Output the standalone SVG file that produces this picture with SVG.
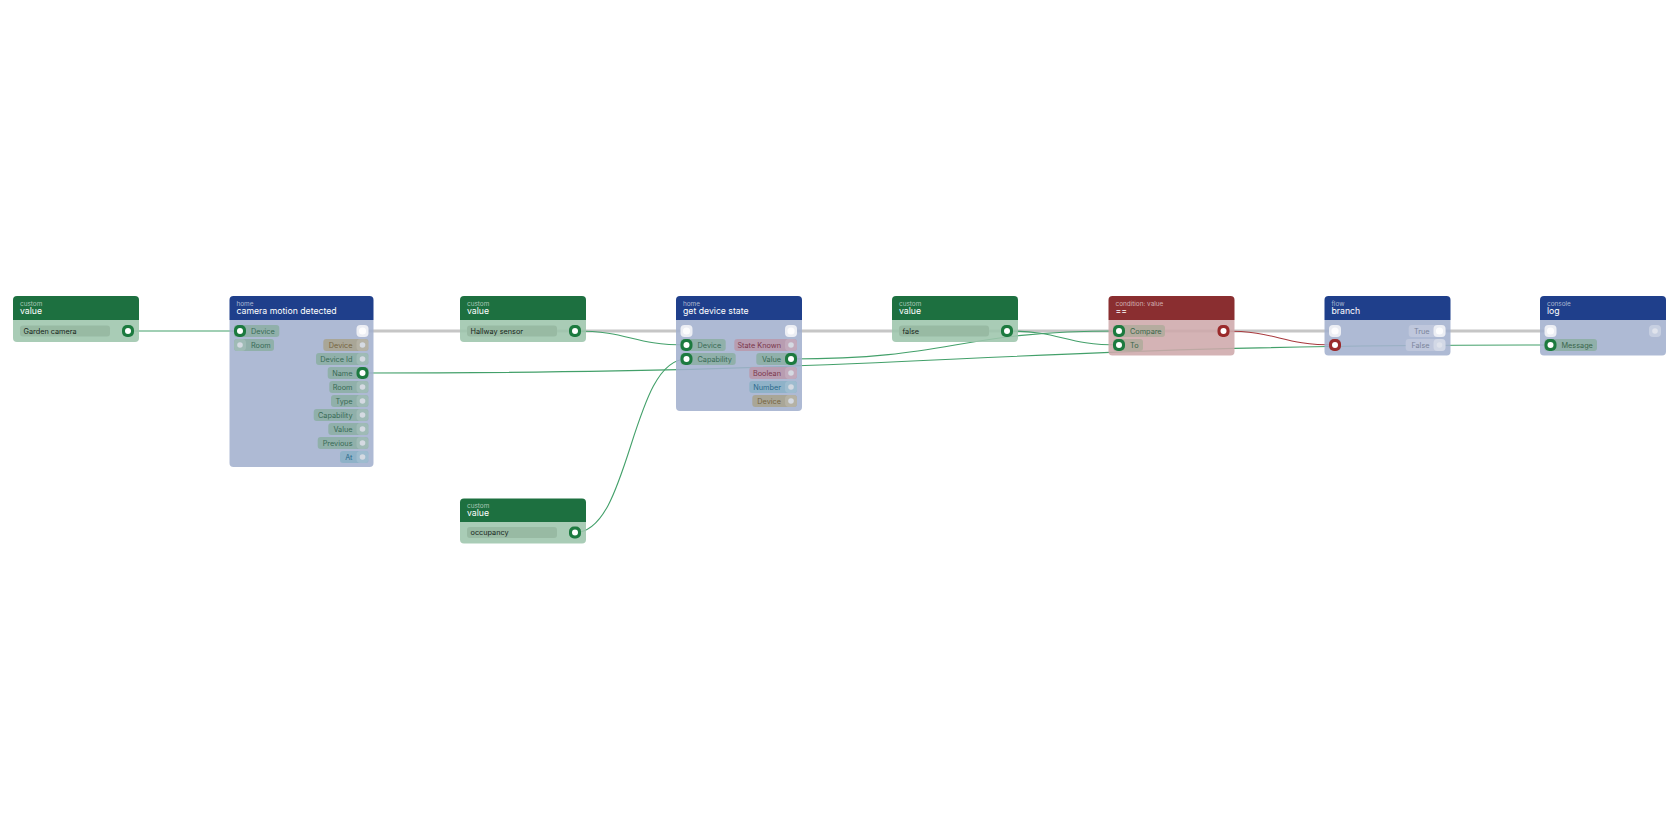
<svg xmlns="http://www.w3.org/2000/svg" width="1680" height="840" viewBox="0 0 1680 840">
<style>
text{font-family:Inter,"Noto Sans","Liberation Sans",sans-serif}
.sub{font-size:6.4px;fill:rgba(255,255,255,0.62)}
.ttl{font-size:8.7px;fill:#ffffff}
.lbl{font-size:7.3px}
.fld{font-size:7.3px;fill:#17251b}
.hg{fill:#1d7040}.hb{fill:#1f3f8b}.hr{fill:#8a2e30}
.bg{fill:#9dc5ac;fill-opacity:0.88}.bb{fill:#a3b0ce;fill-opacity:0.88}.br{fill:#cea9ab;fill-opacity:0.88}
.field{fill:#98baa3}
.pt{fill:#90b0aa}.tt{fill:#386a55}
.pd{fill:#a9a697}.td{fill:#76653f}
.pa{fill:#8fb2c8}.ta{fill:#2b6a8c}
.pm{fill:#b89db1}.tm{fill:#7a364b}
.pf{fill:#bfc7dc}.tf{fill:#7a849a}
.pc{fill:#b5ac9f}.tc{fill:#3a664a}
.exec{fill:none;stroke:#c6c6c6;stroke-width:3}
.data{fill:none;stroke:#43a06a;stroke-width:1.1}
.bool{fill:none;stroke:#a8393d;stroke-width:1.1}
.pg{fill:#1c7a3f}.pr{fill:#9a2a2b}.dot{fill:#ffffff}
.pu{fill:rgba(255,255,255,0.14)}.du{fill:#d5dae2}
.pe{fill:#eceef4}.de{fill:#fdfdfe}
.peu{fill:rgba(255,255,255,0.3)}.deu{fill:#dfe3ec}
</style>
<defs>
<g id="pgreen"><rect x="-6" y="-6" width="12" height="12" rx="5" class="pg"/><circle r="3" class="dot"/></g>
<g id="pred"><rect x="-6" y="-6" width="12" height="12" rx="5" class="pr"/><circle r="3" class="dot"/></g>
<g id="pun"><rect x="-6" y="-6" width="12" height="12" rx="4" class="pu"/><circle r="2.8" class="du"/></g>
<g id="pexec"><rect x="-6" y="-6" width="12" height="12" rx="4" class="pe"/><circle r="3.6" class="de"/></g>
<g id="pexecu"><rect x="-6" y="-6" width="12" height="12" rx="4" class="peu"/><circle r="2.8" class="deu"/></g>
</defs>
<rect width="1680" height="840" fill="#ffffff"/>

<g id="connectors">
<path class="exec" d="M362.5 331 L686.5 331"/>
<path class="exec" d="M791 331 L1335 331"/>
<path class="exec" d="M1439.5 331 L1550.5 331"/>
<path class="data" d="M128 331 L240 331"/>
<path class="data" d="M575 331 C630.75 331 630.75 345 686.5 345"/>
<path class="data" d="M575 532.5 C630.75 532.5 630.75 359 686.5 359"/>
<path class="data" d="M362.5 373 C956.5 373 956.5 345 1550.5 345"/>
<path class="data" d="M791 359 C955 359 955 331 1119 331"/>
<path class="data" d="M1007 331 C1063 331 1063 345 1119 345"/>
<path class="bool" d="M1223.5 331 C1279.25 331 1279.25 345 1335 345"/>
</g>

<g id="node-garden-camera">
<path class="hg" d="M13 300 a4 4 0 0 1 4 -4 h118 a4 4 0 0 1 4 4 v20 h-126 z"/>
<path class="bg" d="M13 320 h126 v18 a4 4 0 0 1 -4 4 h-118 a4 4 0 0 1 -4 -4 z"/>
<text class="sub" x="20" y="305.6">custom</text>
<text class="ttl" x="20" y="313.8">value</text>
<rect class="field" x="20" y="325.5" width="90" height="11" rx="3"/>
<text class="fld" x="23.5" y="333.6">Garden camera</text>
<use href="#pgreen" x="128" y="331"/>
</g>

<g id="node-camera-motion">
<path class="hb" d="M229.5 300 a4 4 0 0 1 4 -4 h136 a4 4 0 0 1 4 4 v20 h-144 z"/>
<path class="bb" d="M229.5 320 h144 v143 a4 4 0 0 1 -4 4 h-136 a4 4 0 0 1 -4 -4 z"/>
<text class="sub" x="236.5" y="305.6">home</text>
<text class="ttl" x="236.5" y="313.8">camera motion detected</text>
<rect class="pt" x="234" y="325" width="45.3" height="12" rx="3"/>
<text class="lbl tt" x="251" y="333.6">Device</text>
<use href="#pgreen" x="240" y="331"/>
<rect class="pt" x="234" y="339" width="40" height="12" rx="3"/>
<text class="lbl tt" x="251" y="347.6">Room</text>
<use href="#pun" x="240" y="345"/>
<use href="#pexec" x="362.5" y="331"/>
<rect class="pd" x="323.3" y="339" width="45.2" height="12" rx="3"/>
<text class="lbl td" x="352.5" y="347.6" text-anchor="end">Device</text>
<use href="#pun" x="362.5" y="345"/>
<rect class="pt" x="316" y="353" width="52.5" height="12" rx="3"/>
<text class="lbl tt" x="352.5" y="361.6" text-anchor="end">Device Id</text>
<use href="#pun" x="362.5" y="359"/>
<rect class="pt" x="327.7" y="367" width="40.8" height="12" rx="3"/>
<text class="lbl tt" x="352.5" y="375.6" text-anchor="end">Name</text>
<use href="#pgreen" x="362.5" y="373"/>
<rect class="pt" x="329.3" y="381" width="39.2" height="12" rx="3"/>
<text class="lbl tt" x="352.5" y="389.6" text-anchor="end">Room</text>
<use href="#pun" x="362.5" y="387"/>
<rect class="pt" x="331" y="395" width="37.5" height="12" rx="3"/>
<text class="lbl tt" x="352.5" y="403.6" text-anchor="end">Type</text>
<use href="#pun" x="362.5" y="401"/>
<rect class="pt" x="313.7" y="409" width="54.8" height="12" rx="3"/>
<text class="lbl tt" x="352.5" y="417.6" text-anchor="end">Capability</text>
<use href="#pun" x="362.5" y="415"/>
<rect class="pt" x="328.3" y="423" width="40.2" height="12" rx="3"/>
<text class="lbl tt" x="352.5" y="431.6" text-anchor="end">Value</text>
<use href="#pun" x="362.5" y="429"/>
<rect class="pt" x="317.7" y="437" width="50.8" height="12" rx="3"/>
<text class="lbl tt" x="352.5" y="445.6" text-anchor="end">Previous</text>
<use href="#pun" x="362.5" y="443"/>
<rect class="pa" x="340" y="451" width="28.5" height="12" rx="3"/>
<text class="lbl ta" x="352.5" y="459.6" text-anchor="end">At</text>
<use href="#pun" x="362.5" y="457"/>
</g>

<g id="node-hallway-sensor">
<path class="hg" d="M460 300 a4 4 0 0 1 4 -4 h118 a4 4 0 0 1 4 4 v20 h-126 z"/>
<path class="bg" d="M460 320 h126 v18 a4 4 0 0 1 -4 4 h-118 a4 4 0 0 1 -4 -4 z"/>
<text class="sub" x="467" y="305.6">custom</text>
<text class="ttl" x="467" y="313.8">value</text>
<rect class="field" x="467" y="325.5" width="90" height="11" rx="3"/>
<text class="fld" x="470.5" y="333.6">Hallway sensor</text>
<use href="#pgreen" x="575" y="331"/>
</g>

<g id="node-get-device-state">
<path class="hb" d="M676 300 a4 4 0 0 1 4 -4 h118 a4 4 0 0 1 4 4 v20 h-126 z"/>
<path class="bb" d="M676 320 h126 v87 a4 4 0 0 1 -4 4 h-118 a4 4 0 0 1 -4 -4 z"/>
<text class="sub" x="683" y="305.6">home</text>
<text class="ttl" x="683" y="313.8">get device state</text>
<use href="#pexec" x="686.5" y="331"/>
<rect class="pt" x="680.5" y="339" width="45.2" height="12" rx="3"/>
<text class="lbl tt" x="697.5" y="347.6">Device</text>
<use href="#pgreen" x="686.5" y="345"/>
<rect class="pt" x="680.5" y="353" width="55.2" height="12" rx="3"/>
<text class="lbl tt" x="697.5" y="361.6">Capability</text>
<use href="#pgreen" x="686.5" y="359"/>
<use href="#pexec" x="791" y="331"/>
<rect class="pm" x="734.3" y="339" width="62.7" height="12" rx="3"/>
<text class="lbl tm" x="781" y="347.6" text-anchor="end">State Known</text>
<use href="#pun" x="791" y="345"/>
<rect class="pt" x="756.3" y="353" width="40.7" height="12" rx="3"/>
<text class="lbl tt" x="781" y="361.6" text-anchor="end">Value</text>
<use href="#pgreen" x="791" y="359"/>
<rect class="pm" x="749.3" y="367" width="47.7" height="12" rx="3"/>
<text class="lbl tm" x="781" y="375.6" text-anchor="end">Boolean</text>
<use href="#pun" x="791" y="373"/>
<rect class="pa" x="749.3" y="381" width="47.7" height="12" rx="3"/>
<text class="lbl ta" x="781" y="389.6" text-anchor="end">Number</text>
<use href="#pun" x="791" y="387"/>
<rect class="pd" x="752.3" y="395" width="44.7" height="12" rx="3"/>
<text class="lbl td" x="781" y="403.6" text-anchor="end">Device</text>
<use href="#pun" x="791" y="401"/>
</g>

<g id="node-false">
<path class="hg" d="M892 300 a4 4 0 0 1 4 -4 h118 a4 4 0 0 1 4 4 v20 h-126 z"/>
<path class="bg" d="M892 320 h126 v18 a4 4 0 0 1 -4 4 h-118 a4 4 0 0 1 -4 -4 z"/>
<text class="sub" x="899" y="305.6">custom</text>
<text class="ttl" x="899" y="313.8">value</text>
<rect class="field" x="899" y="325.5" width="90" height="11" rx="3"/>
<text class="fld" x="902.5" y="333.6">false</text>
<use href="#pgreen" x="1007" y="331"/>
</g>

<g id="node-condition">
<path class="hr" d="M1108.5 300 a4 4 0 0 1 4 -4 h118 a4 4 0 0 1 4 4 v20 h-126 z"/>
<path class="br" d="M1108.5 320 h126 v31.5 a4 4 0 0 1 -4 4 h-118 a4 4 0 0 1 -4 -4 z"/>
<text class="sub" x="1115.5" y="305.6">condition: value</text>
<text class="ttl" x="1115.5" y="313.8">==</text>
<rect class="pc" x="1113" y="325" width="52" height="12" rx="3"/>
<text class="lbl tc" x="1130" y="333.6">Compare</text>
<use href="#pgreen" x="1119" y="331"/>
<rect class="pc" x="1113" y="339" width="30" height="12" rx="3"/>
<text class="lbl tc" x="1130" y="347.6">To</text>
<use href="#pgreen" x="1119" y="345"/>
<use href="#pred" x="1223.5" y="331"/>
</g>

<g id="node-branch">
<path class="hb" d="M1324.5 300 a4 4 0 0 1 4 -4 h118 a4 4 0 0 1 4 4 v20 h-126 z"/>
<path class="bb" d="M1324.5 320 h126 v31.5 a4 4 0 0 1 -4 4 h-118 a4 4 0 0 1 -4 -4 z"/>
<text class="sub" x="1331.5" y="305.6">flow</text>
<text class="ttl" x="1331.5" y="313.8">branch</text>
<use href="#pexec" x="1335" y="331"/>
<use href="#pred" x="1335" y="345"/>
<rect class="pf" x="1408.7" y="325" width="36.8" height="12" rx="3"/>
<text class="lbl tf" x="1429.5" y="333.6" text-anchor="end">True</text>
<use href="#pexec" x="1439.5" y="331"/>
<rect class="pf" x="1405.7" y="339" width="39.8" height="12" rx="3"/>
<text class="lbl tf" x="1429.5" y="347.6" text-anchor="end">False</text>
<use href="#pexecu" x="1439.5" y="345"/>
</g>

<g id="node-log">
<path class="hb" d="M1540 300 a4 4 0 0 1 4 -4 h118 a4 4 0 0 1 4 4 v20 h-126 z"/>
<path class="bb" d="M1540 320 h126 v31.5 a4 4 0 0 1 -4 4 h-118 a4 4 0 0 1 -4 -4 z"/>
<text class="sub" x="1547" y="305.6">console</text>
<text class="ttl" x="1547" y="313.8">log</text>
<use href="#pexec" x="1550.5" y="331"/>
<rect class="pt" x="1544.5" y="339" width="52.5" height="12" rx="3"/>
<text class="lbl tc" x="1561.5" y="347.6">Message</text>
<use href="#pgreen" x="1550.5" y="345"/>
<use href="#pexecu" x="1655" y="331"/>
</g>

<g id="node-occupancy">
<path class="hg" d="M460 502.5 a4 4 0 0 1 4 -4 h118 a4 4 0 0 1 4 4 v19.5 h-126 z"/>
<path class="bg" d="M460 522 h126 v17.5 a4 4 0 0 1 -4 4 h-118 a4 4 0 0 1 -4 -4 z"/>
<text class="sub" x="467" y="508.1">custom</text>
<text class="ttl" x="467" y="516.3">value</text>
<rect class="field" x="467" y="527" width="90" height="11" rx="3"/>
<text class="fld" x="470.5" y="535.1">occupancy</text>
<use href="#pgreen" x="575" y="532.5"/>
</g>
</svg>
